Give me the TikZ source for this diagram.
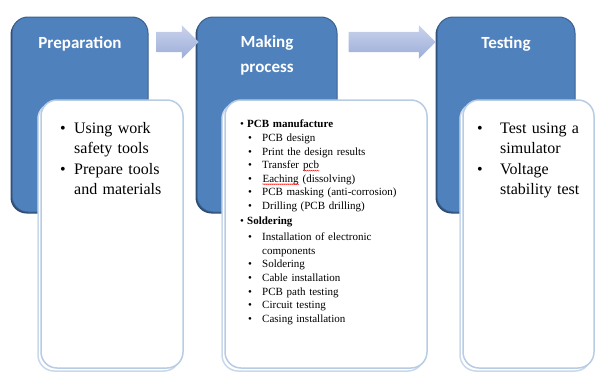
\documentclass[tikz,border=0pt]{standalone}
\usepackage{fontspec}
\setmainfont{Liberation Serif}
\newfontfamily\headfont{Carlito}
\usetikzlibrary{shapes.arrows,positioning,calc,shadows,decorations.pathmorphing}

\definecolor{stageblue}{RGB}{79,129,189}
\definecolor{stageedge}{RGB}{58,96,142}
\definecolor{stageshade}{RGB}{44,74,112}
\definecolor{flowlight}{RGB}{202,211,236}
\definecolor{flowdark}{RGB}{156,173,216}
\definecolor{detailedge}{RGB}{184,204,228}
\definecolor{detailshade}{RGB}{202,216,236}

% red squiggle for the misspelt words
\newcommand\misspelt[1]{\tikz[baseline=(word.base)]{\node[inner sep=0pt] (word) {#1};
    \draw[red, line width=0.4pt, decorate, decoration={snake, amplitude=0.5pt, segment length=2pt}]
        ([yshift=-2pt]word.base west) -- ([yshift=-2pt]word.base east);}}
% one bullet line: bullet offset, text offset, text
\newcommand\entry[3]{\par\hangindent=#2\hangafter=1\noindent\hspace*{#1}\makebox[\dimexpr#2-#1\relax][l]{\textbullet}#3}

\tikzset{
    stage/.style={rectangle, draw=stageedge, line width=1pt, fill=stageblue, rounded corners=16pt, minimum height=195pt,
        general shadow={fill=stageshade, shadow xshift=-1.5pt, shadow yshift=-1.5pt}},
    title/.style={font=\headfont\bfseries\fontsize{17}{25}\selectfont, text=white, align=center},
    detail/.style={rectangle, draw=detailedge, line width=1.5pt, fill=white, rounded corners=16pt, minimum height=268pt,
        general shadow={draw=detailshade, line width=1.5pt, fill=white, shadow xshift=-3pt, shadow yshift=-3pt}},
    flow/.style={single arrow, single arrow head extend=6.5pt, inner xsep=0pt, inner ysep=10pt, top color=flowlight, bottom color=flowdark},
    bigitems/.style={anchor=north west, inner sep=0pt, align=left, font=\fontsize{16}{19.5}\selectfont},
    smallitems/.style={anchor=north west, inner sep=0pt, align=left, font=\fontsize{11}{13.6}\selectfont}
}

\begin{document}
\begin{tikzpicture}[x=1pt, y=-1pt]
    \useasboundingbox (0,0) rectangle (596,372);

    % Stage headers
    \node [stage, minimum width=136pt] (prep) at (80,114.5) {};
    \node [stage, minimum width=140pt] (make) at (267,114.5) {};
    \node [stage, minimum width=138pt] (test) at (506,114.5) {};
    \node [title] (preptitle) at ([yshift=-27pt]prep.north) {Preparation};
    \node [title] (maketitle) at ([yshift=-38.5pt]make.north) {Making\\process};
    \node [title] (testtitle) at ([yshift=-27pt]test.north) {Testing};

    % Arrows between stages
    \node [flow, minimum height=42pt] (prepmake) at ([yshift=-25.5pt]$(prep.north east)!0.5!(make.north west)$) {};
    \node [flow, minimum height=87pt] (maketest) at ([yshift=-25.5pt]$(make.north east)!0.5!(test.north west)$) {};

    % Detail boxes
    \node [detail, minimum width=142pt] (prepdet) at (112,234) {};
    \node [detail, minimum width=202pt] (makedet) at (326,234) {};
    \node [detail, minimum width=131pt] (testdet) at (528.5,234) {};

    % Steps of each stage
    \node [bigitems, text width=115pt] (preplist) at (58,114) {
        \entry{2pt}{16pt}{Using work\newline safety tools}\par\vspace{2pt}
        \entry{2pt}{16pt}{Prepare tools\newline and materials}\par
    };
    \node [smallitems, text width=185pt] (makelist) at (240,114) {
        \entry{0pt}{7pt}{\textbf{PCB manufacture}}
        \entry{8pt}{22pt}{PCB design}
        \entry{8pt}{22pt}{Print the design results}
        \entry{8pt}{22pt}{Transfer \misspelt{pcb}}
        \entry{8pt}{22pt}{\misspelt{Eaching} (dissolving)}
        \entry{8pt}{22pt}{PCB masking (anti-corrosion)}
        \entry{8pt}{22pt}{Drilling (PCB drilling)}\par\vspace{1.5pt}
        \entry{0pt}{7pt}{\textbf{Soldering}}\par\vspace{2.5pt}
        \entry{8pt}{22pt}{Installation of electronic\newline components}
        \entry{8pt}{22pt}{Soldering}
        \entry{8pt}{22pt}{Cable installation}
        \entry{8pt}{22pt}{PCB path testing}
        \entry{8pt}{22pt}{Circuit testing}
        \entry{8pt}{22pt}{Casing installation}\par
    };
    \node [bigitems, text width=110pt] (testlist) at (475,114) {
        \entry{2pt}{25pt}{Test using a\newline simulator}\par\vspace{2pt}
        \entry{2pt}{25pt}{Voltage\newline stability test}\par
    };
\end{tikzpicture}
\end{document}
